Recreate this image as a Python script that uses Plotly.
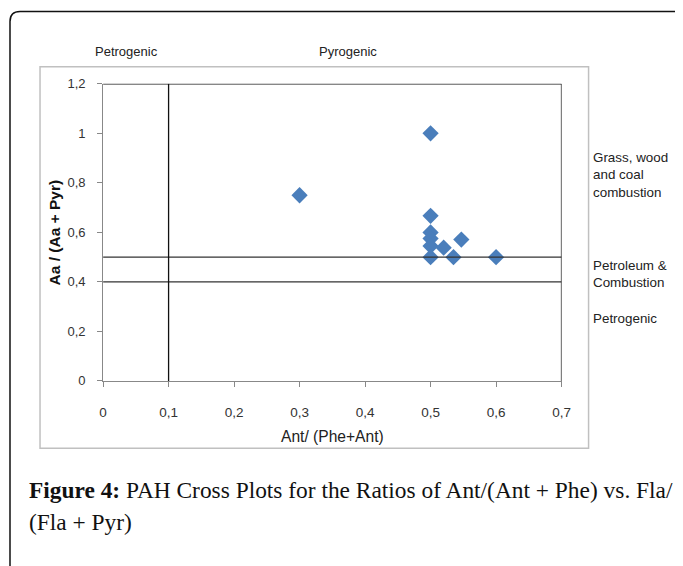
import plotly.graph_objects as go

# Data
x_vals = [0.3, 0.5, 0.5, 0.5, 0.5, 0.5, 0.5, 0.52, 0.547, 0.535, 0.6]
y_vals = [0.75, 1.0, 0.667, 0.6, 0.575, 0.545, 0.5, 0.538, 0.571, 0.5, 0.5]
x_ticks = [0, 0.1, 0.2, 0.3, 0.4, 0.5, 0.6, 0.7]
x_tick_labels = ["0", "0,1", "0,2", "0,3", "0,4", "0,5", "0,6", "0,7"]
y_ticks = [0, 0.2, 0.4, 0.6, 0.8, 1.0, 1.2]
y_tick_labels = ["0", "0,2", "0,4", "0,6", "0,8", "1", "1,2"]
h_thresholds = [0.5, 0.4]
v_thresholds = [0.1, 0.7]
y_top = 1.2

W, H = 683, 566
def px(x):
    return ((x - 12) / 0.98) / W
def py(y):
    return 1 - ((y - 15.4) / 0.97) / H

fig = go.Figure()
fig.add_trace(go.Scatter(
    x=x_vals, y=y_vals, mode="markers",
    marker=dict(symbol="diamond", size=12.5, color="#4a7ebb"),
    showlegend=False, hoverinfo="skip", cliponaxis=False))

shapes = []
# outer rounded frame
shapes.append(dict(type="path", xref="paper", yref="paper",
    path=f"M {px(10)},{py(620)} L {px(10)},{py(22)} Q {px(10)},{py(12)} {px(20)},{py(12)} L {px(720)},{py(12)}",
    line=dict(color="#111", width=1.5)))
# grey chart box
shapes.append(dict(type="rect", xref="paper", yref="paper",
    x0=px(40), x1=px(588), y0=py(447), y1=py(67),
    line=dict(color="#c0c0c0", width=1.5)))
for h in h_thresholds:
    shapes.append(dict(type="line", xref="x", yref="y", x0=0, x1=0.7, y0=h, y1=h,
                       line=dict(color="#333", width=1.3)))
shapes.append(dict(type="line", xref="x", yref="y", x0=0, x1=0.7, y0=y_top, y1=y_top,
                   line=dict(color="#111", width=1.3)))
for v in v_thresholds:
    shapes.append(dict(type="line", xref="x", yref="y", x0=v, x1=v, y0=0, y1=y_top,
                       line=dict(color="#111", width=1.3)))

font_s = "Liberation Sans, Arial, sans-serif"
ann = []
def txt(t, x, y, size=13.4, xanchor="left", yanchor="middle", family=font_s, color="#222"):
    ann.append(dict(text=t, x=px(x), y=py(y), xref="paper", yref="paper",
                    showarrow=False, xanchor=xanchor, yanchor=yanchor,
                    font=dict(family=family, size=size, color=color), align="left"))

txt("Petrogenic", 126, 52, size=13, xanchor="center")
txt("Pyrogenic", 348, 52, size=13, xanchor="center")
txt("Grass, wood<br>and coal<br>combustion", 590, 175)
txt("Petroleum &<br>Combustion", 590, 273)
txt("Petrogenic", 590, 318)
txt("Ant/ (Phe+Ant)", 332, 435, size=15.6, xanchor="center")
ann.append(dict(text="<b>Aa / (Aa + Pyr)</b>", x=px(54), y=py(232), xref="paper", yref="paper",
                showarrow=False, textangle=-90, xanchor="center", yanchor="middle",
                font=dict(family=font_s, size=15.5, color="#111")))
serif = "Liberation Serif, Times New Roman, serif"
txt("<b>Figure 4:</b> PAH Cross Plots for the Ratios of Ant/(Ant + Phe) vs. Fla/", 27, 489,
    size=23.4, family=serif, color="#111")
txt("(Fla + Pyr)", 27, 521, size=23.4, family=serif, color="#111")

fig.update_layout(
    width=W, height=H, margin=dict(l=0, r=0, t=0, b=0),
    paper_bgcolor="white", plot_bgcolor="white",
    shapes=shapes, annotations=ann,
    xaxis=dict(domain=[px(103), px(561)], range=[0, 0.7], tickvals=x_ticks,
               ticktext=x_tick_labels, showgrid=False, zeroline=False,
               showline=True, linecolor="#888", linewidth=1,
               ticks="outside", ticklen=5, tickcolor="#888",
               ticklabelstandoff=14,
               tickfont=dict(family=font_s, size=13.5, color="#333")),
    yaxis=dict(domain=[py(380), py(84)], range=[0, 1.2], tickvals=y_ticks,
               ticktext=y_tick_labels, showgrid=False, zeroline=False,
               showline=True, linecolor="#888", linewidth=1,
               ticks="outside", ticklen=5, tickcolor="#888",
               ticklabelstandoff=9,
               tickfont=dict(family=font_s, size=13, color="#333")),
)
fig.write_html("out.html")
